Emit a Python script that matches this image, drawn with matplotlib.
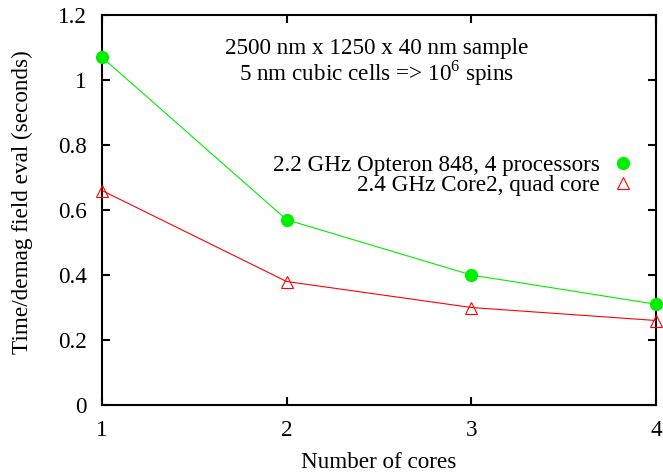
import matplotlib
matplotlib.use("Agg")
import matplotlib.pyplot as plt
from matplotlib.lines import Line2D

cores = [1, 2, 3, 4]
opteron = [1.07, 0.57, 0.40, 0.31]
core2 = [0.66, 0.38, 0.30, 0.26]
label_opteron = "2.2 GHz Opteron 848, 4 processors"
label_core2 = "2.4 GHz Core2, quad core"
yticks = [0, 0.2, 0.4, 0.6, 0.8, 1.0, 1.2]
yticklabels = ["0", "0.2", "0.4", "0.6", "0.8", "1", "1.2"]

green = "#00ee00"
red = "#ff0000"

plt.rcParams["font.family"] = ["Liberation Serif", "DejaVu Serif"]
plt.rcParams["font.size"] = 16.7
plt.rcParams["mathtext.fontset"] = "custom"
plt.rcParams["mathtext.rm"] = "Liberation Serif"

fig = plt.figure(figsize=(6.63, 4.74), dpi=100)
ax = fig.add_axes([102 / 663, 1 - 405 / 474, 554 / 663, 390 / 474])

ax.plot(cores, opteron, color=green, lw=0.8, marker="o", ms=8.5,
        mec=green, mfc=green, clip_on=False, zorder=3)
ax.plot(cores, core2, color=red, lw=0.8, marker="^", ms=8.5,
        mec=red, mfc="none", mew=0.8, clip_on=False, zorder=3)

ax.set_xlim(1, 4)
ax.set_ylim(0, 1.2)
ax.set_xticks(cores)
ax.set_yticks(yticks)
ax.set_yticklabels(yticklabels)
ax.tick_params(direction="in", length=6, width=1.5, top=True, right=True)
ax.tick_params(axis="x", pad=11)
ax.tick_params(axis="y", pad=11)
for s in ax.spines.values():
    s.set_linewidth(1.5)

ax.set_xlabel("Number of cores")
ax.set_ylabel("Time/demag field eval (seconds)")
ax.xaxis.set_label_coords(0.5, -47 / 390, transform=ax.transAxes)
ax.yaxis.set_label_coords(-69 / 554, 0.52, transform=ax.transAxes)

ax.text(0.495, 0.877, "2500 nm x 1250 x 40 nm sample\n5 nm cubic cells => 10$^6$ spins",
        transform=ax.transAxes, ha="center", va="center", linespacing=1.0)

handles = [
    Line2D([], [], ls="none", marker="o", ms=8.5, mec=green, mfc=green),
    Line2D([], [], ls="none", marker="^", ms=8.5, mec=red, mfc="none", mew=0.8),
]
leg = ax.legend(handles, [label_opteron, label_core2], loc="upper right",
                bbox_to_anchor=(0.978, 0.665), frameon=False,
                markerfirst=False, handlelength=1.0, handletextpad=0.5,
                labelspacing=-0.05, borderaxespad=0)

fig.savefig("out.png", dpi=100)
